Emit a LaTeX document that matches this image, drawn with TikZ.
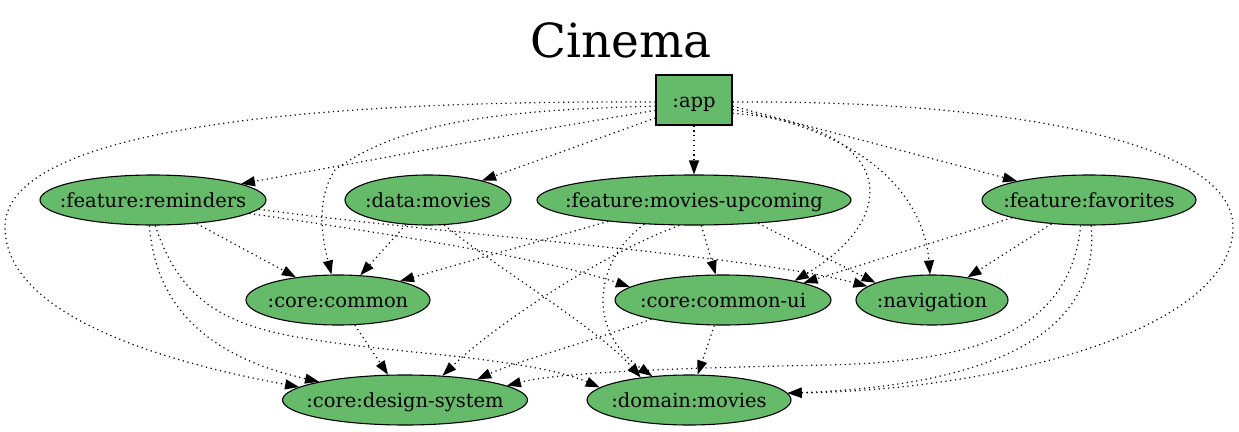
\documentclass[tikz,border=0pt]{standalone}
\usepackage{fontspec}
\setmainfont{DejaVu Serif}
\usetikzlibrary{arrows.meta,shapes.geometric}
\definecolor{nodegreen}{RGB}{102,187,106}
\newcommand{\ntext}[1]{\makebox[0pt]{#1}}
\begin{document}
\begin{tikzpicture}[x=1pt,y=-1pt,
  mod/.style={ellipse, draw=black, line width=1.1pt, fill=nodegreen,
    minimum height=50pt, inner sep=0pt, text height=18pt, text depth=4pt,
    font=\fontsize{19.5}{22}\selectfont},
  appbox/.style={rectangle, draw=black, line width=1.1pt, fill=nodegreen,
    minimum width=76pt, minimum height=50pt, inner sep=0pt,
    text height=18pt, text depth=4pt, font=\fontsize{19.5}{22}\selectfont},
  dep/.style={draw=black, line width=1.2pt, dash pattern=on 1.2pt off 3.6pt,
    -{Triangle[length=14pt,width=10pt]}}]
\useasboundingbox (0,0) rectangle (1239,431);
\node[anchor=base, font=\fontsize{47}{50}\selectfont] (title) at (621,57) {Cinema};
\node[appbox] (app) at (694,100) {\ntext{:app}};
\node[mod, minimum width=226pt] (rem) at (153,200) {\ntext{:feature:reminders}};
\node[mod, minimum width=166pt] (data) at (428,200) {\ntext{:data:movies}};
\node[mod, minimum width=314pt] (upc) at (694,200) {\ntext{:feature:movies-upcoming}};
\node[mod, minimum width=214pt] (fav) at (1089,200) {\ntext{:feature:favorites}};
\node[mod, minimum width=184pt] (common) at (338,300) {\ntext{:core:common}};
\node[mod, minimum width=216pt] (cui) at (723,300) {\ntext{:core:common-ui}};
\node[mod, minimum width=152pt] (nav) at (932,300) {\ntext{:navigation}};
\node[mod, minimum width=245pt] (ds) at (405,400) {\ntext{:core:design-system}};
\node[mod, minimum width=204pt] (dom) at (689,400) {\ntext{:domain:movies}};
% from app
\draw[dep] (app.195) .. controls (480,140) .. (rem);
\draw[dep] (app.205) -- (data);
\draw[dep] (app) -- (upc);
\draw[dep] (app.351) -- (fav);
\draw[dep] (app.189) .. controls (500,110) and (400,122) .. (335,170) .. controls (318,195) and (320,230) .. (common);
\draw[dep] (app.341) .. controls (895,125) and (905,215) .. (cui.15);
\draw[dep] (app.346) .. controls (885,135) and (925,210) .. (nav);
\draw[dep] (app.183) .. controls (300,100) and (5,130) .. (5,227) .. controls (5,320) and (180,365) .. (ds.173);
\draw[dep] (app.357) .. controls (1000,100) and (1233,140) .. (1233,227) .. controls (1233,330) and (1000,390) .. (dom.4);
% from reminders
\draw[dep] (rem) -- (common);
\draw[dep] (rem.262) .. controls (155,300) and (200,355) .. (ds.168);
\draw[dep] (rem.275) .. controls (190,330) and (260,335) .. (413,352) .. controls (500,360) and (560,370) .. (dom.172);
\draw[dep] (rem.-8) .. controls (400,235) and (550,260) .. (cui.172);
\draw[dep] (rem.-5) .. controls (450,235) and (750,255) .. (nav.168);
% from data
\draw[dep] (data) -- (common);
\draw[dep] (data.-57) .. controls (500,270) and (600,330) .. (dom.155);
% from movies-upcoming
\draw[dep] (upc.194) -- (common.17);
\draw[dep] (upc.240) .. controls (600,255) and (495,325) .. (ds.33);
\draw[dep] (upc) -- (cui);
\draw[dep] (upc.-20) -- (nav.163);
\draw[dep] (upc.206) .. controls (595,260) and (585,330) .. (dom.147);
% from favorites
\draw[dep] (fav.193) -- (cui.12);
\draw[dep] (fav) -- (nav);
\draw[dep] (fav.252) .. controls (1070,330) and (980,362) .. (826,365) .. controls (680,368) and (560,372) .. (ds.8);
\draw[dep] (fav.-85) .. controls (1100,330) and (1000,385) .. (dom.4);
% from core modules
\draw[dep] (common) -- (ds);
\draw[dep] (cui.195) .. controls (580,345) and (520,360) .. (ds.16);
\draw[dep] (cui) -- (dom);
\end{tikzpicture}
\end{document}
